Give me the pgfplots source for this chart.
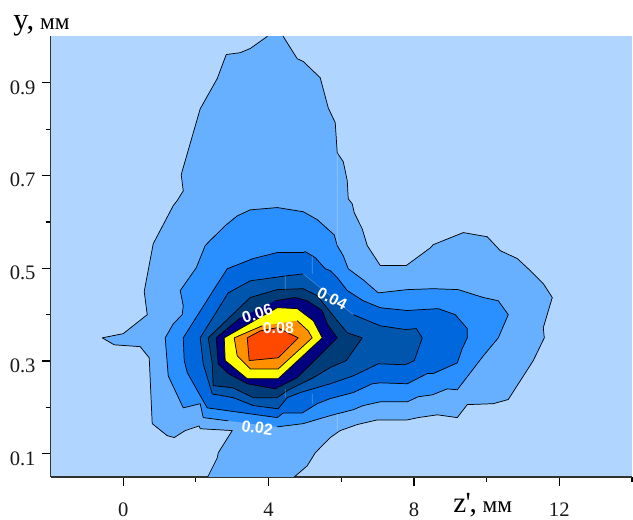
\documentclass[border=0pt]{standalone}
\usepackage{fontspec}
\setmainfont{Liberation Serif}
\newfontfamily\lab{Liberation Sans}
\usepackage{pgfplots}
\usepackage{pgfplotstable}
\pgfplotsset{compat=1.18}
\definecolor{bg}{HTML}{B0D6FF}
\definecolor{la}{HTML}{66B0FF}
\definecolor{lb}{HTML}{2A90FF}
\definecolor{lc}{HTML}{0068DC}
\definecolor{ld}{HTML}{0056AC}
\definecolor{le}{HTML}{003C78}
\definecolor{lf}{HTML}{000080}
\definecolor{lg}{HTML}{FFFF00}
\definecolor{lh}{HTML}{FF9000}
\definecolor{li}{HTML}{FF4800}
\pgfplotstableread{
z y
2.312 0.03
2.312 0.048
2.587 0.091
2.615 0.102
3.000 0.150
2.119 0.154
2.092 0.160
1.707 0.150
1.404 0.135
1.211 0.139
0.798 0.165
0.716 0.307
0.468 0.331
-0.248 0.335
-0.578 0.350
0.000 0.359
0.661 0.400
0.578 0.450
0.826 0.553
1.376 0.635
1.486 0.646
1.652 0.667
1.596 0.702
2.119 0.844
2.587 0.909
2.835 0.961
3.220 0.965
3.496 0.974
3.964 1.000
3.964 1.030
4.404 1.030
4.404 1.000
4.789 0.952
4.955 0.946
5.422 0.911
5.643 0.846
5.835 0.814
5.890 0.749
6.056 0.730
6.166 0.689
6.193 0.650
6.303 0.639
6.358 0.620
6.578 0.585
6.716 0.549
7.074 0.506
7.790 0.506
8.450 0.544
8.533 0.551
9.359 0.577
10.019 0.568
10.377 0.538
10.845 0.521
11.203 0.495
11.561 0.467
11.808 0.437
11.561 0.372
11.588 0.350
11.285 0.301
10.597 0.217
10.184 0.208
9.469 0.206
9.193 0.178
8.643 0.184
8.120 0.178
7.817 0.173
6.991 0.173
6.441 0.163
5.973 0.150
5.698 0.135
5.422 0.113
5.285 0.102
5.065 0.074
4.679 0.048
4.679 0.030
}\levela
\pgfplotstableread{
z y
4.239 0.158
4.955 0.165
5.422 0.176
5.780 0.184
6.331 0.195
6.606 0.204
7.074 0.212
7.817 0.212
8.120 0.223
8.505 0.227
8.918 0.240
9.193 0.238
9.909 0.311
10.322 0.350
10.597 0.400
10.322 0.430
9.909 0.437
9.221 0.454
8.533 0.456
7.817 0.454
7.019 0.447
6.606 0.475
6.193 0.499
6.056 0.527
5.890 0.549
5.808 0.572
5.340 0.605
4.955 0.622
4.239 0.631
3.496 0.626
3.138 0.613
2.808 0.592
2.395 0.560
2.257 0.549
2.009 0.501
1.569 0.452
1.652 0.419
1.624 0.400
1.376 0.380
1.156 0.350
1.239 0.268
1.652 0.199
2.119 0.208
2.202 0.178
2.890 0.171
}\levelb
\pgfplotstableread{
z y
2.202 0.214
2.312 0.199
2.863 0.193
4.239 0.178
4.404 0.188
4.927 0.188
5.340 0.208
5.698 0.219
6.331 0.232
6.854 0.251
7.074 0.253
7.817 0.251
8.368 0.273
8.533 0.273
9.193 0.296
9.331 0.327
9.469 0.350
9.469 0.370
9.138 0.400
8.670 0.413
7.817 0.409
7.074 0.415
6.606 0.430
6.166 0.452
5.890 0.480
5.698 0.495
5.560 0.499
5.285 0.523
5.010 0.536
4.955 0.534
4.239 0.534
3.578 0.521
2.863 0.499
2.477 0.452
1.652 0.350
1.679 0.301
1.762 0.275
2.202 0.214
}\levelc
\pgfplotstableread{
z y
6.331 0.400
7.074 0.376
7.762 0.368
8.065 0.370
8.230 0.350
8.010 0.301
7.762 0.292
7.019 0.294
6.331 0.268
5.698 0.251
4.872 0.232
4.514 0.221
4.266 0.197
3.578 0.204
3.028 0.221
2.450 0.229
2.202 0.294
2.119 0.350
2.890 0.447
3.496 0.473
4.514 0.484
4.955 0.488
}\leveld
\pgfplotstableread{
z y
6.578 0.350
6.166 0.361
5.890 0.387
5.340 0.441
4.955 0.456
4.239 0.454
3.496 0.437
2.340 0.350
2.450 0.294
2.477 0.247
3.028 0.242
3.578 0.221
4.239 0.221
4.514 0.236
5.230 0.264
5.698 0.286
6.138 0.301
6.578 0.350
}\levele
\pgfplotstableread{
z y
4.184 0.430
4.734 0.437
5.065 0.430
5.477 0.409
5.615 0.380
5.890 0.350
4.789 0.264
4.184 0.240
3.413 0.251
2.890 0.273
2.615 0.294
2.560 0.350
3.220 0.393
}\levelf
\pgfplotstableread{
z y
2.780 0.350
2.808 0.301
3.413 0.262
4.266 0.262
5.477 0.350
5.230 0.387
4.789 0.413
4.239 0.415
2.780 0.350
}\levelg
\pgfplotstableread{
z y
4.789 0.387
5.092 0.365
5.202 0.350
4.266 0.283
3.496 0.283
3.138 0.311
3.055 0.350
3.826 0.376
}\levelh
\pgfplotstableread{
z y
3.413 0.350
3.468 0.301
4.266 0.307
4.817 0.350
4.239 0.372
3.771 0.365
3.413 0.350
}\leveli
\newcommand{\lev}[2]{%
  \addplot[fill=#2,draw=none,forget plot] table {#1} -- cycle;
  \addplot[black,line width=0.55pt,no markers,line join=round,forget plot] table {#1};
}
\begin{document}
\begin{tikzpicture}[x=1bp,y=1bp]
\useasboundingbox (-37.9bp,-32.25bp) rectangle (436.9bp,357.75bp);
\begin{axis}[
  at={(0bp,0bp)},anchor=south west,
  scale only axis,width=436.1bp,height=330.4bp,
  xmin=-2,xmax=14,ymin=0.05,ymax=1,
  axis lines*=left,
  axis line style={color=black!80,line width=0.95pt},
  axis background/.style={fill=bg},
  tick align=outside,
  xtick={0,4,8,12},minor xtick={2,6,10,14},
  ytick={0.1,0.3,0.5,0.7,0.9},minor ytick={0.2,0.4,0.6,0.8},
  major tick length=6.75bp,minor tick length=3.75bp,
  tick style={black,line width=0.9pt},
  /pgf/number format/assume math mode=true,
  ticklabel style={font=\fontsize{15.5}{17}\selectfont,text=black!90},
  xticklabel style={yshift=-9.5bp},
  yticklabel style={xshift=-1bp,yshift=-3.5bp},
  yticklabels={0.1,0.3,0.5,0.7,0.9},
]
\lev{\levela}{la}
\lev{\levelb}{lb}
\lev{\levelc}{lc}
\lev{\leveld}{ld}
\lev{\levele}{le}
\lev{\levelf}{lf}
\lev{\levelg}{lg}
\lev{\levelh}{lh}
\lev{\leveli}{li}
\addplot[white,opacity=0.3,line width=0.4pt,unbounded coords=jump,forget plot] coordinates {
  (4.459,0.484) (4.459,0.454) (nan,nan)
  (4.459,0.240) (4.459,0.221) (nan,nan)
  (5.202,0.527) (5.202,0.488) (nan,nan)
  (5.202,0.229) (5.202,0.208) (nan,nan)
  (5.890,0.749) (5.890,0.549) (nan,nan)
  (5.890,0.186) (5.890,0.150) (nan,nan)
  (4.955,0.488) (6.331,0.400)
};
\node[white,font=\lab\bfseries\fontsize{12}{13}\selectfont,rotate=-8] at (axis cs:3.69,0.156) {0.02};
\node[white,font=\lab\bfseries\fontsize{12}{13}\selectfont,rotate=-27] at (axis cs:5.75,0.434) {0.04};
\node[white,font=\lab\bfseries\fontsize{12}{13}\selectfont,rotate=18] at (axis cs:3.69,0.402) {0.06};
\node[white,font=\lab\bfseries\fontsize{12}{13}\selectfont] at (axis cs:4.27,0.372) {0.08};
\end{axis}
\node[anchor=base west,inner sep=0pt] at (-28.1bp,335.25bp) {\fontsize{23}{24}\selectfont y,\fontsize{17.5}{18}\selectfont{} мм};
\node[anchor=base west,inner sep=0pt] at (301.9bp,-27bp) {\fontsize{22}{24}\selectfont z\kern-0.5bp\textquotesingle\kern-1bp,\fontsize{17.5}{18}\selectfont{} мм};
\end{tikzpicture}
\end{document}
